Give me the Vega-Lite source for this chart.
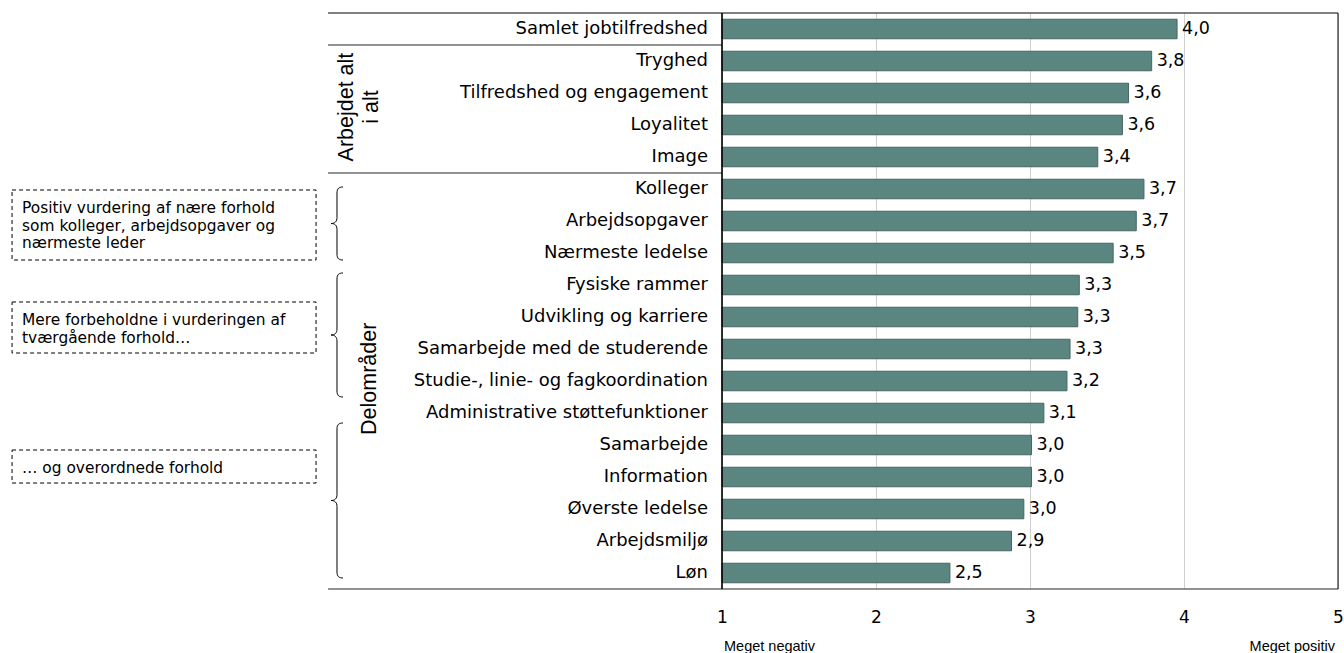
{
  "$schema": "https://vega.github.io/schema/vega-lite/v6.json",
  "width": 1338,
  "height": 576,
  "autosize": "none",
  "padding": {"left": 0, "top": 13, "right": 6, "bottom": 64},
  "background": "white",
  "config": {
    "view": {"stroke": null},
    "locale": {"number": {"decimal": ",", "thousands": ".", "grouping": [3], "currency": ["", " kr."]}}
  },
  "datasets": {
    "items": [
      {"item": "Samlet jobtilfredshed", "value": 3.955},
      {"item": "Tryghed", "value": 3.79},
      {"item": "Tilfredshed og engagement", "value": 3.64},
      {"item": "Loyalitet", "value": 3.6},
      {"item": "Image", "value": 3.44},
      {"item": "Kolleger", "value": 3.74},
      {"item": "Arbejdsopgaver", "value": 3.69},
      {"item": "Nærmeste ledelse", "value": 3.54},
      {"item": "Fysiske rammer", "value": 3.32},
      {"item": "Udvikling og karriere", "value": 3.31},
      {"item": "Samarbejde med de studerende", "value": 3.26},
      {"item": "Studie-, linie- og fagkoordination", "value": 3.24},
      {"item": "Administrative støttefunktioner", "value": 3.09},
      {"item": "Samarbejde", "value": 3.01},
      {"item": "Information", "value": 3.01},
      {"item": "Øverste ledelse", "value": 2.96},
      {"item": "Arbejdsmiljø", "value": 2.88},
      {"item": "Løn", "value": 2.48}
    ],
    "topLine": [{"r": 0, "a": -1.558, "b": 5}],
    "sepLines": [
      {"r": 1, "a": -1.558, "b": 1},
      {"r": 5, "a": -1.558, "b": 1},
      {"r": 18, "a": -1.558, "b": 5}
    ],
    "boxes": [
      {"r1": 5.531, "r2": 7.719, "rt": 6.094, "note": "Positiv vurdering af nære forhold\nsom kolleger, arbejdsopgaver og\nnærmeste leder"},
      {"r1": 9.031, "r2": 10.625, "rt": 9.594, "note": "Mere forbeholdne i vurderingen af\ntværgående forhold…"},
      {"r1": 13.656, "r2": 14.688, "rt": 14.219, "note": "… og overordnede forhold"}
    ],
    "groups": [
      {"label": "Arbejdet alt\ni alt", "r": 2.94, "x": -1.435},
      {"label": "Delområder", "r": 11.43, "x": -1.286}
    ],
    "brace1": [{"r": 6.578}],
    "brace2": [{"r": 10.0625}],
    "brace3": [{"r": 15.234}],
    "negEnd": [{"label": "Meget negativ"}],
    "posEnd": [{"label": "Meget positiv"}]
  },
  "resolve": {"scale": {"y": "independent"}},
  "layer": [
    {
      "data": {"name": "items"},
      "encoding": {
        "y": {"field": "item", "type": "nominal", "sort": null, "scale": {"paddingInner": 0, "paddingOuter": 0}, "axis": null}
      },
      "layer": [
        {
          "mark": {"type": "bar", "height": {"band": 0.61}, "fill": "#5b8581", "stroke": "#46665f", "strokeWidth": 1},
          "encoding": {
            "x": {
              "field": "value", "type": "quantitative",
              "scale": {"domain": [-3.6883, 5], "nice": false, "zero": false},
              "axis": {"values": [1, 2, 3, 4, 5], "format": "d", "grid": true, "gridColor": "#cfcfcf", "gridWidth": 1, "domain": false, "ticks": false, "tickSize": 0, "labelPadding": 20, "labelFont": "DejaVu Sans", "labelFontSize": 17, "labelColor": "#000", "labelFlush": false, "labelOverlap": false, "title": null}
            },
            "x2": {"datum": 1}
          }
        },
        {
          "mark": {"type": "text", "align": "left", "baseline": "middle", "dx": 5, "font": "DejaVu Sans", "fontSize": 17.5, "color": "#000"},
          "encoding": {
            "x": {"field": "value", "type": "quantitative", "scale": {"domain": [-3.6883, 5], "nice": false, "zero": false}},
            "text": {"field": "value", "type": "quantitative", "format": ".1f"}
          }
        },
        {
          "mark": {"type": "text", "align": "right", "baseline": "middle", "dx": -14, "font": "DejaVu Sans", "fontSize": 18, "color": "#000"},
          "encoding": {
            "x": {"datum": 1, "type": "quantitative", "scale": {"domain": [-3.6883, 5], "nice": false, "zero": false}},
            "text": {"field": "item", "type": "nominal"}
          }
        }
      ]
    },
    {
      "layer": [
        {
          "data": {"name": "topLine"},
          "mark": {"type": "rule", "color": "#000", "strokeWidth": 1},
          "encoding": {
            "y": {"field": "r", "type": "quantitative", "scale": {"domain": [0, 18], "reverse": true, "nice": false, "zero": false}, "axis": null},
            "x": {"field": "a", "type": "quantitative", "scale": {"domain": [-3.6883, 5], "nice": false, "zero": false}},
            "x2": {"field": "b"}
          }
        },
        {
          "data": {"name": "sepLines"},
          "mark": {"type": "rule", "color": "#6e6e6e", "strokeWidth": 1.6},
          "encoding": {
            "y": {"field": "r", "type": "quantitative"},
            "x": {"field": "a", "type": "quantitative"},
            "x2": {"field": "b"}
          }
        },
        {
          "data": {"values": [{}]},
          "mark": {"type": "rule", "color": "#000", "strokeWidth": 1.6},
          "encoding": {"x": {"datum": 1, "type": "quantitative"}}
        },
        {
          "data": {"values": [{}]},
          "mark": {"type": "rule", "color": "#000", "strokeWidth": 1},
          "encoding": {"x": {"datum": 5, "type": "quantitative"}}
        },
        {
          "data": {"name": "boxes"},
          "mark": {"type": "rect", "fill": null, "stroke": "#000", "strokeWidth": 1, "strokeDash": [4, 3]},
          "encoding": {
            "x": {"datum": -3.61, "type": "quantitative"},
            "x2": {"datum": -1.636},
            "y": {"field": "r1", "type": "quantitative"},
            "y2": {"field": "r2"}
          }
        },
        {
          "data": {"name": "boxes"},
          "mark": {"type": "text", "align": "left", "baseline": "middle", "lineBreak": "\n", "lineHeight": 17.5, "font": "DejaVu Sans", "fontSize": 15.4, "color": "#000"},
          "encoding": {
            "x": {"datum": -3.545, "type": "quantitative"},
            "y": {"field": "rt", "type": "quantitative"},
            "text": {"field": "note", "type": "nominal"}
          }
        },
        {
          "data": {"name": "groups"},
          "mark": {"type": "text", "align": "center", "baseline": "middle", "angle": 270, "lineBreak": "\n", "lineHeight": 25, "font": "Liberation Sans", "fontSize": 21.5, "color": "#000"},
          "encoding": {
            "x": {"field": "x", "type": "quantitative"},
            "y": {"field": "r", "type": "quantitative"},
            "text": {"field": "label", "type": "nominal"}
          }
        },
        {
          "data": {"name": "brace1"},
          "mark": {"type": "point", "shape": "M6,-36.5 C2,-36.5 0,-35 0,-30.5 L0,-6 C0,-2 -2,0 -6,0 C-2,0 0,2 0,6 L0,30.5 C0,35 2,36.5 6,36.5", "size": 4, "filled": false, "stroke": "#000", "strokeWidth": 1, "opacity": 1},
          "encoding": {
            "x": {"datum": -1.5, "type": "quantitative"},
            "y": {"field": "r", "type": "quantitative"}
          }
        },
        {
          "data": {"name": "brace2"},
          "mark": {"type": "point", "shape": "M6,-62 C2,-62 0,-60.5 0,-56 L0,-6 C0,-2 -2,0 -6,0 C-2,0 0,2 0,6 L0,56 C0,60.5 2,62 6,62", "size": 4, "filled": false, "stroke": "#000", "strokeWidth": 1, "opacity": 1},
          "encoding": {
            "x": {"datum": -1.5, "type": "quantitative"},
            "y": {"field": "r", "type": "quantitative"}
          }
        },
        {
          "data": {"name": "brace3"},
          "mark": {"type": "point", "shape": "M6,-77.5 C2,-77.5 0,-76 0,-71.5 L0,-6 C0,-2 -2,0 -6,0 C-2,0 0,2 0,6 L0,71.5 C0,76 2,77.5 6,77.5", "size": 4, "filled": false, "stroke": "#000", "strokeWidth": 1, "opacity": 1},
          "encoding": {
            "x": {"datum": -1.5, "type": "quantitative"},
            "y": {"field": "r", "type": "quantitative"}
          }
        },
        {
          "data": {"name": "negEnd"},
          "mark": {"type": "text", "align": "left", "baseline": "middle", "dx": 2, "font": "Liberation Sans", "fontSize": 14.5, "color": "#000"},
          "encoding": {
            "x": {"datum": 1, "type": "quantitative"},
            "y": {"datum": 19.82, "type": "quantitative"},
            "text": {"field": "label", "type": "nominal"}
          }
        },
        {
          "data": {"name": "posEnd"},
          "mark": {"type": "text", "align": "right", "baseline": "middle", "dx": -3, "font": "Liberation Sans", "fontSize": 14.5, "color": "#000"},
          "encoding": {
            "x": {"datum": 5, "type": "quantitative"},
            "y": {"datum": 19.82, "type": "quantitative"},
            "text": {"field": "label", "type": "nominal"}
          }
        }
      ]
    }
  ]
}
